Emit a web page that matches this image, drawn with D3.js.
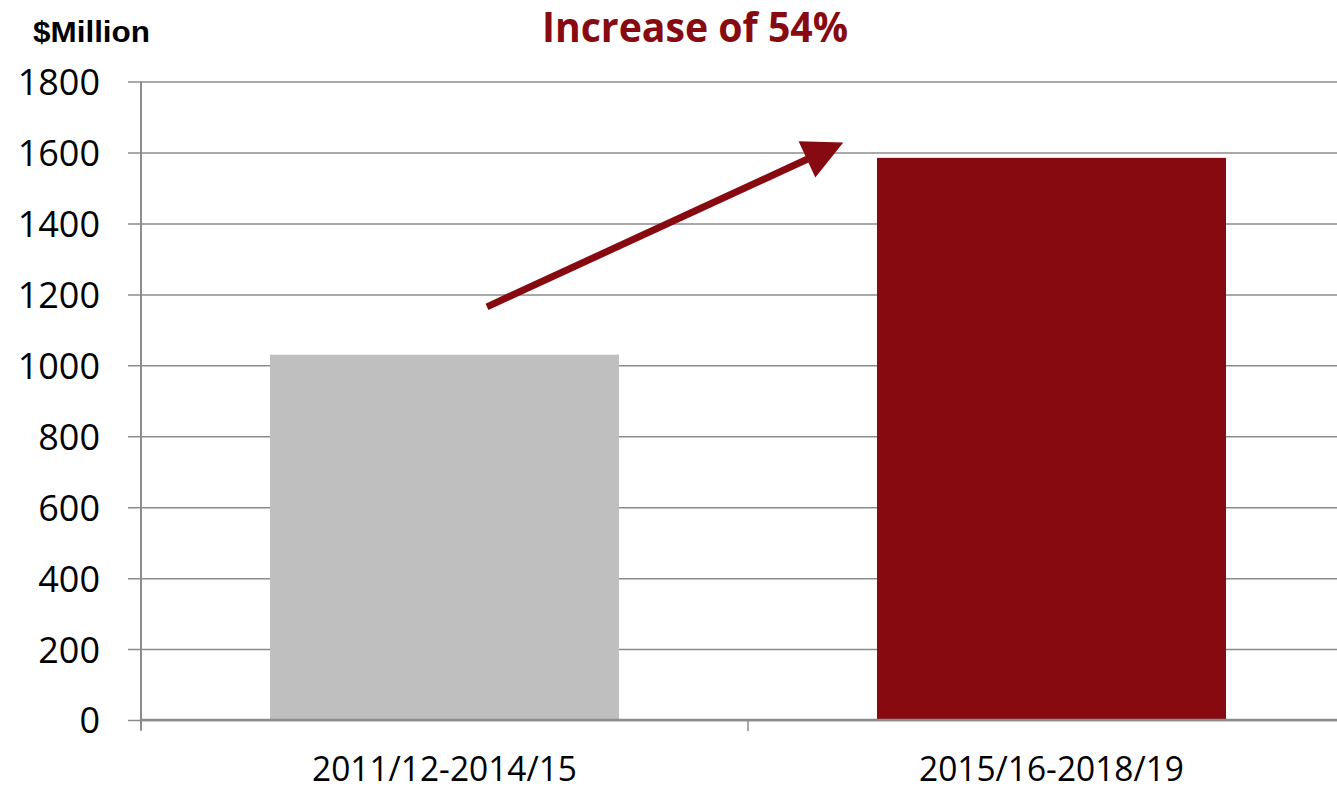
<!DOCTYPE html>
<meta charset="utf-8">
<style>
body { margin: 0; background: #fff; }
svg { display: block; }
.tick-y text { font-family: 'Open Sans', sans-serif; font-size: 36px; fill: #000; }
.cat text { font-family: 'Open Sans', sans-serif; font-size: 34px; fill: #000; }
</style>
<body>
<svg width="1337" height="786"></svg>
<script src="https://d3js.org/d3.v7.min.js"></script>
<script>
// chart values
var categories = ["2011/12-2014/15", "2015/16-2018/19"];
var values = [1030, 1585];
var barColors = ["#bfbfbf", "#870a10"];
var yTicks = [0, 200, 400, 600, 800, 1000, 1200, 1400, 1600, 1800];
var title = "Increase of 54%";
var unitLabel = "$Million";
// arrow annotation, in (category position, value) units
var arrowFrom = [0.57, 1165];
var arrowTo = [1.157, 1628];

(function() {
  var svg = d3.select("svg"),
      left = 141, right = 1355, top = 81.6, bottom = 720;

  var x = d3.scaleBand()
      .domain(categories)
      .range([left, right])
      .paddingInner(0.425)
      .paddingOuter(0.2125);

  // continuous version of x for the annotation
  var xc = d3.scaleLinear().domain([0, categories.length]).range([left, right]);

  var y = d3.scaleLinear()
      .domain([0, 1800])
      .range([bottom, top]);

  // gridlines + y labels
  var yAxis = svg.append("g")
      .attr("class", "tick-y")
      .attr("transform", "translate(" + left + ",0)")
      .call(d3.axisLeft(y).tickValues(yTicks).tickSize(13).tickPadding(28)
        .tickFormat(d3.format("d")));
  yAxis.select(".domain").remove();
  yAxis.selectAll(".tick line")
      .attr("x1", -13)
      .attr("x2", 1337 - left)
      .attr("stroke", "#8c8c8c")
      .attr("stroke-width", 1.5);
  yAxis.selectAll(".tick text").attr("dy", "0.36em");

  // vertical axis line
  svg.append("line")
      .attr("x1", left).attr("x2", left)
      .attr("y1", top).attr("y2", bottom + 10)
      .attr("stroke", "#8c8c8c")
      .attr("stroke-width", 2);

  // bars
  svg.append("g")
    .selectAll("rect")
    .data(values)
    .enter().append("rect")
      .attr("x", function(d, i) { return x(categories[i]); })
      .attr("y", function(d) { return y(d); })
      .attr("width", x.bandwidth())
      .attr("height", function(d) { return y(0) - y(d); })
      .attr("fill", function(d, i) { return barColors[i]; });

  // x axis baseline
  svg.append("line")
      .attr("x1", left).attr("x2", 1337)
      .attr("y1", y(0)).attr("y2", y(0))
      .attr("stroke", "#8c8c8c")
      .attr("stroke-width", 2.5);

  // category boundary ticks
  svg.append("g")
    .selectAll("line")
    .data(d3.range(categories.length + 1))
    .enter().append("line")
      .attr("x1", function(i) { return left + i * x.step(); })
      .attr("x2", function(i) { return left + i * x.step(); })
      .attr("y1", y(0)).attr("y2", y(0) + 11)
      .attr("stroke", "#8c8c8c")
      .attr("stroke-width", 1.5);

  // category labels
  var cat = svg.append("g").attr("class", "cat");
  cat.selectAll("text")
    .data(categories)
    .enter().append("text")
      .attr("x", function(d) { return x(d) + x.bandwidth() / 2; })
      .attr("y", 781)
      .attr("text-anchor", "middle")
      .attr("textLength", 265)
      .attr("lengthAdjust", "spacingAndGlyphs")
      .text(function(d) { return d; });

  // unit label
  svg.append("text")
      .attr("x", 33)
      .attr("y", 42)
      .style("font-family", "'Liberation Sans', Arial, sans-serif")
      .style("font-weight", "bold")
      .style("font-size", "29px")
      .attr("textLength", 117)
      .attr("lengthAdjust", "spacingAndGlyphs")
      .text(unitLabel);

  // title
  svg.append("text")
      .attr("x", 542)
      .attr("y", 42)
      .style("font-family", "'Open Sans', sans-serif")
      .style("font-weight", "bold")
      .style("font-size", "41px")
      .style("fill", "#870a10")
      .attr("textLength", 306)
      .attr("lengthAdjust", "spacingAndGlyphs")
      .text(title);

  // arrow
  var x0 = xc(arrowFrom[0]), y0 = y(arrowFrom[1]),
      x1 = xc(arrowTo[0]), y1 = y(arrowTo[1]);
  var ang = Math.atan2(y1 - y0, x1 - x0),
      headLen = 40, headHalf = 20;
  var bx = x1 - headLen * Math.cos(ang), by = y1 - headLen * Math.sin(ang);
  var nx = -Math.sin(ang), ny = Math.cos(ang);

  svg.append("line")
      .attr("x1", x0).attr("y1", y0)
      .attr("x2", bx + 2 * Math.cos(ang)).attr("y2", by + 2 * Math.sin(ang))
      .attr("stroke", "#870a10")
      .attr("stroke-width", 7);

  svg.append("path")
      .attr("d", d3.line()([
        [x1, y1],
        [bx + nx * headHalf, by + ny * headHalf],
        [bx - nx * headHalf, by - ny * headHalf]
      ]) + "Z")
      .attr("fill", "#870a10");
})();
</script>
</body>
